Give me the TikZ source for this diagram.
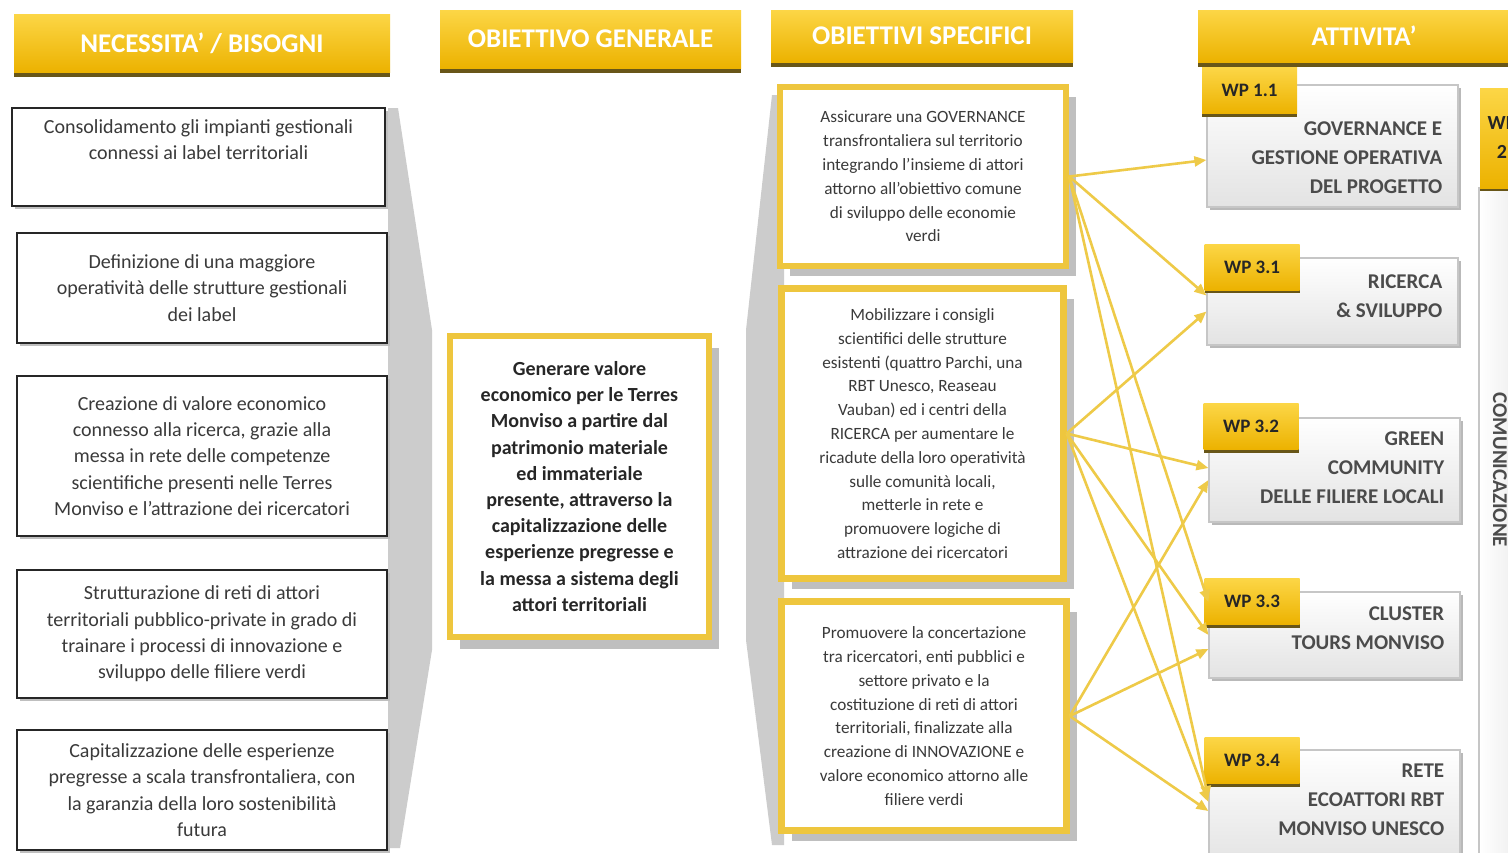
\documentclass[tikz,border=0pt]{standalone}
\usepackage{fontspec}
\setmainfont{Carlito}
\usetikzlibrary{arrows.meta,calc,shadows}

% palette
\definecolor{goldtop}{RGB}{252,214,70}
\definecolor{goldbot}{RGB}{236,178,0}
\definecolor{goldedge}{RGB}{104,86,24}
\definecolor{frameyel}{RGB}{238,198,62}
\definecolor{linkyel}{RGB}{238,202,72}
\definecolor{inkgray}{RGB}{58,58,58}
\definecolor{capgray}{RGB}{75,75,75}

\tikzset{
  head/.style={top color=goldtop, bottom color=goldbot, text=white,
    font=\fontsize{13.5}{15}\selectfont\bfseries,
    drop shadow={shadow xshift=0pt, shadow yshift=-2.5pt, fill=goldedge, opacity=1}},
  needbox/.style={draw=gray!30!black, line width=1.4pt, fill=white, align=center,
    text=inkgray, font=\fontsize{10}{13.2}\selectfont, minimum width=185pt,
    drop shadow={shadow xshift=1.5pt, shadow yshift=-1.5pt, fill=gray!50, opacity=1}},
  goalbox/.style={draw=frameyel, line width=3.2pt, fill=white, align=center,
    text=black!85, font=\fontsize{10}{13.1}\selectfont\bfseries,
    drop shadow={shadow xshift=5pt, shadow yshift=-6pt, fill=gray!50, opacity=1}},
  specbox/.style={draw=frameyel, line width=3.2pt, fill=white, align=center,
    text=inkgray, font=\fontsize{8.6}{11.9}\selectfont,
    drop shadow={shadow xshift=5pt, shadow yshift=-5pt, fill=gray!50, opacity=1}},
  funnel/.style={fill=gray!40},
  wptab/.style={top color=goldtop, bottom color=goldbot, text=black!85,
    font=\fontsize{9.5}{11}\selectfont\bfseries, minimum width=47.5pt, minimum height=23pt,
    drop shadow={shadow xshift=0pt, shadow yshift=-1.5pt, fill=goldedge, opacity=1}},
  wpbody/.style={draw=gray!45, line width=0.6pt, top color=white, bottom color=gray!22,
    minimum width=125.5pt,
    drop shadow={shadow xshift=1.5pt, shadow yshift=-1.5pt, fill=gray!55, opacity=1}},
  wptext/.style={anchor=east, inner sep=0pt, align=right, text=capgray,
    font=\fontsize{10.5}{14.5}\selectfont\bfseries},
  link/.style={draw=linkyel, line width=1.3pt, -{Triangle[length=6pt,width=5pt]}}
}

\begin{document}
\begin{tikzpicture}[x=0.5pt,y=-0.5pt]
      \useasboundingbox (0,0) rectangle (1508,852);
      \clip (0,0) rectangle (1508,852);
      \fill[white] (0,0) rectangle (1508,852);

      % column headers
      \node[head, minimum width=188pt, minimum height=29pt] (hneed) at (202,43) {NECESSITA' / BISOGNI};
      \node[head, minimum width=150.5pt, minimum height=29pt] (hgen) at (590.5,39) {OBIETTIVO GENERALE};
      \node[head, minimum width=151pt, minimum height=26pt] (hspec) at (922,36) {OBIETTIVI SPECIFICI};
      \node[head, minimum width=166pt, minimum height=26pt] (hact) at (1364,36) {ATTIVITA'};

      % grey funnels between the columns
      \fill[funnel] (388,108) -- (398,108) -- (432,330) -- (432,650) -- (400,848) -- (388,848) -- cycle;
      \fill[funnel] (772,95) -- (784,95) -- (784,845) -- (772,845) -- (746,640) -- (746,330) -- cycle;

      % needs
      \node[needbox, minimum width=186.5pt, minimum height=49pt] (n1) at (198.5,157)
        {Consolidamento gli impianti gestionali\\connessi ai label territoriali\\\strut};
      \node[needbox, minimum height=55pt] (n2) at (202,288)
        {Definizione di una maggiore\\operatività delle strutture gestionali\\dei label};
      \node[needbox, minimum height=80pt] (n3) at (202,456)
        {Creazione di valore economico\\connesso alla ricerca, grazie alla\\messa in rete delle competenze\\scientifiche presenti nelle Terres\\Monviso e l'attrazione dei ricercatori};
      \node[needbox, minimum height=64pt] (n4) at (202,634)
        {Strutturazione di reti di attori\\territoriali pubblico-private in grado di\\trainare i processi di innovazione e\\sviluppo delle filiere verdi};
      \node[needbox, minimum height=60pt] (n5) at (202,790)
        {Capitalizzazione delle esperienze\\pregresse a scala transfrontaliera, con\\la garanzia della loro sostenibilità\\futura};

      % general objective
      \node[goalbox, minimum width=129.5pt, minimum height=150.5pt] (goal) at (579.5,486.5)
        {Generare valore\\economico per le Terres\\Monviso a partire dal\\patrimonio materiale\\ed immateriale\\presente, attraverso la\\capitalizzazione delle\\esperienze pregresse e\\la messa a sistema degli\\attori territoriali};

      % specific objectives
      \node[specbox, minimum width=143pt, minimum height=89.5pt] (o1) at (923,176.5)
        {Assicurare una GOVERNANCE\\transfrontaliera sul territorio\\integrando l'insieme di attori\\attorno all'obiettivo comune\\di sviluppo delle economie\\verdi};
      \node[specbox, minimum width=141pt, minimum height=145pt] (o2) at (922.5,433.5)
        {Mobilizzare i consigli\\scientifici delle strutture\\esistenti (quattro Parchi, una\\RBT Unesco, Reaseau\\Vauban) ed i centri della\\RICERCA per aumentare le\\ricadute della loro operatività\\sulle comunità locali,\\metterle in rete e\\promuovere logiche di\\attrazione dei ricercatori};
      \node[specbox, minimum width=142.5pt, minimum height=114.5pt] (o3) at (924,716)
        {Promuovere la concertazione\\tra ricercatori, enti pubblici e\\settore privato e la\\costituzione di reti di attori\\territoriali, finalizzate alla\\creazione di INNOVAZIONE e\\valore economico attorno alle\\filiere verdi};

      % work packages
      \node[wpbody, minimum height=61pt] (b11) at (1332.5,146) {};
      \node[wptab] (t11) at (1249.5,90.5) {WP 1.1};
      \node[wptext] (l11) at ($(b11.east)+(-16,12)$) {GOVERNANCE E\\GESTIONE OPERATIVA\\DEL PROGETTO};

      \node[wpbody, minimum height=43.5pt] (b31) at (1332.5,301.5) {};
      \node[wptab] (t31) at (1252,267) {WP 3.1};
      \node[wptext] (l31) at ($(b31.east)+(-16,-5)$) {RICERCA\\\& SVILUPPO};

      \node[wpbody, minimum height=52pt] (b32) at (1334.5,470) {};
      \node[wptab] (t32) at (1251,426.5) {WP 3.2};
      \node[wptext] (l32) at ($(b32.east)+(-16,-2)$) {GREEN\\COMMUNITY\\DELLE FILIERE LOCALI};

      \node[wpbody, minimum height=43pt] (b33) at (1334.5,635) {};
      \node[wptab] (t33) at (1252,601.5) {WP 3.3};
      \node[wptext] (l33) at ($(b33.east)+(-16,-7)$) {CLUSTER\\TOURS MONVISO};

      \node[wpbody, minimum height=58pt] (b34) at (1334.5,808) {};
      \node[wptab] (t34) at (1252,760.5) {WP 3.4};
      \node[wptext] (l34) at ($(b34.east)+(-16,-8)$) {RETE\\ECOATTORI RBT\\MONVISO UNESCO};

      % communication column on the far right
      \node[draw=gray!45, line width=0.6pt, left color=white, right color=gray!18,
        minimum width=25.5pt, minimum height=336pt] (b2) at (1504.5,524) {};
      \node[wptab, minimum width=22pt, minimum height=50pt, align=center,
        font=\fontsize{10}{14.5}\selectfont\bfseries] (t2) at (1502,138) {WP\\2};
      \node[rotate=-90, text=capgray, font=\fontsize{10.5}{12}\selectfont\bfseries] (l2) at (1500,470) {COMUNICAZIONE};

      % objectives -> work packages
      \draw[link] (o1.east) -- ($(b11.west)+(0,14)$);
      \draw[link] (o1.east) -- ($(b31.west)+(0,-6)$);
      \draw[link] (o1.east) -- ($(b33.west)+(0,-33)$);
      \draw[link] (o1.east) -- ($(b34.west)+(0,-10)$);
      \draw[link] (o2.east) -- ($(b31.west)+(0,10)$);
      \draw[link] (o2.east) -- ($(b32.west)+(0,-2)$);
      \draw[link] (o2.east) -- (b33.west);
      \draw[link] (o2.east) -- ($(b34.west)+(0,-6)$);
      \draw[link] (o3.east) -- ($(b32.west)+(0,10)$);
      \draw[link] (o3.east) -- ($(b33.west)+(0,14)$);
      \draw[link] (o3.east) -- ($(b34.west)+(0,3)$);
    \end{tikzpicture}
\end{document}
